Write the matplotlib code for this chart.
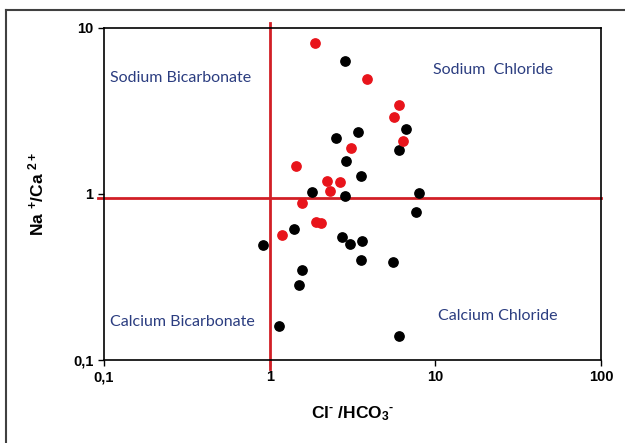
import matplotlib
matplotlib.use("Agg")
import matplotlib.pyplot as plt
from matplotlib.lines import Line2D
from matplotlib.ticker import FixedLocator, FixedFormatter, NullLocator

# Cl-/HCO3- and Na+/Ca2+ ratios, two sample groups
black_cl = [2.84, 6.66, 3.41, 2.52, 6.06, 2.88, 3.54, 1.79, 2.84, 8.0, 7.69,
            1.40, 0.91, 2.73, 3.06, 3.60, 3.54, 5.52, 1.57, 1.51, 1.14, 6.06]
black_na = [6.35, 2.47, 2.37, 2.17, 1.83, 1.58, 1.29, 1.03, 0.977, 1.01, 0.783,
            0.616, 0.493, 0.548, 0.502, 0.521, 0.401, 0.388, 0.346, 0.282, 0.160, 0.140]
red_cl = [1.88, 3.89, 6.06, 5.64, 6.41, 3.10, 1.45, 2.22, 2.67, 2.31, 1.57,
          1.91, 2.03, 1.19]
red_na = [8.07, 4.90, 3.45, 2.92, 2.08, 1.90, 1.47, 1.20, 1.18, 1.04, 0.887,
          0.675, 0.666, 0.569]

ticks = [0.1, 1, 10, 100]
tick_labels = ["0,1", "1", "10", "100"]
x_split = 1.0
y_split = 0.95

plt.rcParams['font.family'] = ['Liberation Sans', 'DejaVu Sans']
plt.rcParams['mathtext.fontset'] = 'custom'
plt.rcParams['mathtext.rm'] = 'Liberation Sans:bold'
plt.rcParams['mathtext.bf'] = 'Liberation Sans:bold'
plt.rcParams['mathtext.default'] = 'bf'

fig = plt.figure(figsize=(6.25, 4.43), dpi=100)
ax = fig.add_axes([0.1664, 0.1874, 0.7952, 0.7494])
ax.set_xscale('log')
ax.set_yscale('log')
ax.set_xlim(0.1, 100)
ax.set_ylim(0.1, 10)

ax.scatter(black_cl, black_na, s=45, color='black', zorder=3)
ax.scatter(red_cl, red_na, s=45, color='#e8141b', zorder=3)

# quadrant separators, running slightly past the frame
ax.plot([x_split, x_split], [0.088, 10.7], color='#d11f26', lw=2, clip_on=False, zorder=2)
ax.plot([0.092, 100], [y_split, y_split], color='#d11f26', lw=2, clip_on=False, zorder=2)

ax.xaxis.set_major_locator(FixedLocator(ticks))
ax.xaxis.set_major_formatter(FixedFormatter(tick_labels))
ax.xaxis.set_minor_locator(NullLocator())
ax.yaxis.set_major_locator(FixedLocator(ticks[:3]))
ax.yaxis.set_major_formatter(FixedFormatter(tick_labels[:3]))
ax.yaxis.set_minor_locator(NullLocator())
ax.tick_params(direction='out', length=4, width=1, labelsize=10.5)
for lab in ax.get_xticklabels() + ax.get_yticklabels():
    lab.set_fontweight('bold')
for sp in ax.spines.values():
    sp.set_linewidth(1.2)

ax.set_xlabel(r"Cl$^{\mathbf{\text{-}}}$ /HCO$_{3}$$^{\mathbf{\text{-}}}$", fontsize=12.5,
              fontweight='bold', labelpad=14)
ax.set_ylabel(r"Na $^{+}$/Ca $^{2+}$", fontsize=12.5, fontweight='bold', labelpad=19)

blue = '#2b3d80'
tkw = dict(color=blue, fontsize=11.5, family=['Lato', 'DejaVu Sans'], va='center')
ax.text(0.109, 5.0, "Sodium Bicarbonate", **tkw)
ax.text(9.66, 5.58, "Sodium  Chloride", **tkw)
ax.text(0.109, 0.169, "Calcium Bicarbonate", **tkw)
ax.text(10.4, 0.184, "Calcium Chloride", **tkw)

# outer chart border
fig.add_artist(Line2D([6 / 625, 6 / 625], [0, 1 - 10 / 443], color='#404040', lw=1.5))
fig.add_artist(Line2D([6 / 625, 1], [1 - 10 / 443, 1 - 10 / 443], color='#404040', lw=1.5))

fig.savefig("out.png", dpi=100)
